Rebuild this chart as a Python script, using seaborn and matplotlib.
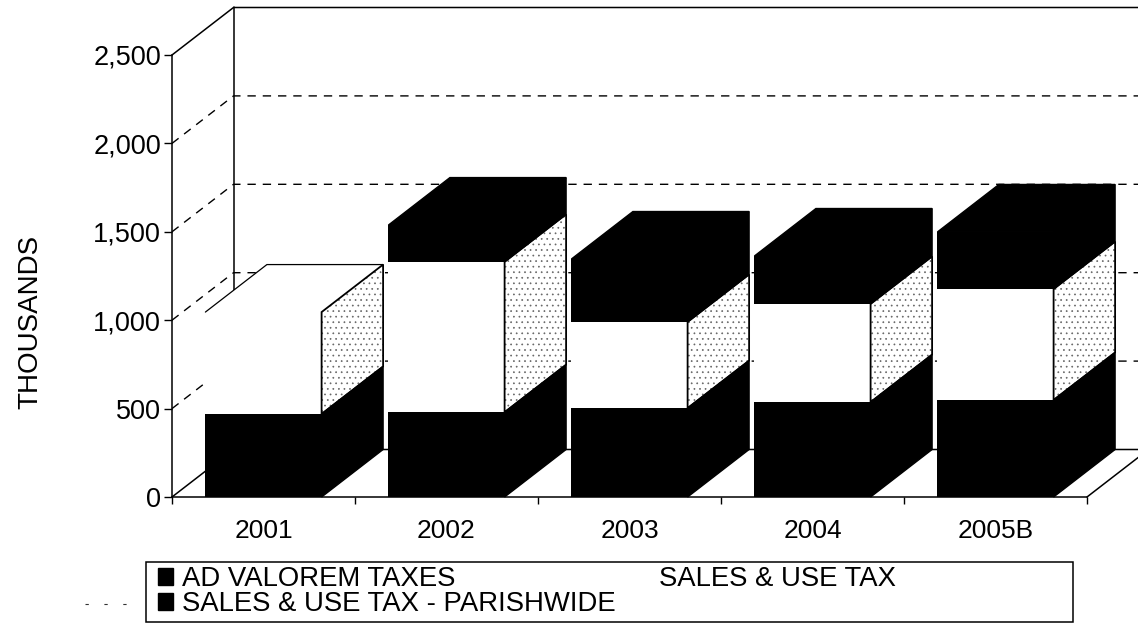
import numpy as np
import pandas as pd
import matplotlib
matplotlib.use("Agg")
import matplotlib.pyplot as plt
from matplotlib.lines import Line2D
from matplotlib.patches import Patch, Polygon, Rectangle
import seaborn as sns

years = ["2001", "2002", "2003", "2004", "2005B"]
ad_valorem = [470, 480, 503, 537, 549]
sales_use = [576, 850, 487, 555, 627]
parishwide = [0, 208, 356, 271, 323]
y_ticks = [0, 500, 1000, 1500, 2000, 2500]
y_tick_labels = ["0", "500", "1,000", "1,500", "2,000", "2,500"]
series_names = ["AD VALOREM TAXES", "SALES & USE TAX - PARISHWIDE", "SALES & USE TAX"]

W, H = 1138, 623
sns.set_theme(style="white")
plt.rcParams["font.family"] = ["Liberation Sans", "DejaVu Sans"]
plt.rcParams["hatch.linewidth"] = 0.5

fig = plt.figure(figsize=(W / 100, H / 100), dpi=100, facecolor="white")
ax = fig.add_axes([172 / W, (H - 497) / H, (1087 - 172) / W, (497 - 55) / H])
ax.patch.set_alpha(0)

BAR_W = 0.635
DX = 61.5 / 183      # depth of the 3-D box in category units
DY = 47.5 / 88.4 * 500  # depth of the 3-D box in value units
XMAX_WALL = 5.2

df = pd.DataFrame({"year": years, "ad": ad_valorem, "sales": sales_use, "parish": parishwide})
ad = np.array(ad_valorem, float)
su = np.array(sales_use, float)
pa = np.array(parishwide, float)

# front faces
sns.barplot(data=df, x="year", y="ad", color="black", saturation=1, width=BAR_W, linewidth=0, ax=ax, zorder=3)
sns.barplot(data=df, x="year", y="sales", bottom=ad, color="white", saturation=1, width=BAR_W, linewidth=0, ax=ax, zorder=3)
sns.barplot(data=df[df["parish"] > 0], x="year", y="parish", bottom=(ad + su)[pa > 0], color="black",
            saturation=1, width=BAR_W, linewidth=0, ax=ax, zorder=3, order=years)

ax.set_xlim(-0.5, 4.5)
ax.set_ylim(0, 2500)

# back wall, floor and depth grid
x0 = -0.5
wall_x = x0 + DX
ax.plot([x0, wall_x, XMAX_WALL], [2500, 2500 + DY, 2500 + DY], color="black", lw=1.1, clip_on=False, zorder=1)
ax.plot([wall_x, wall_x], [DY, 2500 + DY], color="black", lw=1.1, clip_on=False, zorder=1)
ax.plot([x0, wall_x, XMAX_WALL], [0, DY, DY], color="black", lw=1.1, clip_on=False, zorder=1)
ax.plot([4.5, 4.5 + DX], [0, DY], color="black", lw=1.1, clip_on=False, zorder=1)
for v in y_ticks[1:-1]:
    ax.plot([x0, wall_x, XMAX_WALL], [v, v + DY, v + DY], color="black", lw=1.0,
            ls=(0, (6, 5)), clip_on=False, zorder=1)

# side and top faces
for i in range(len(years)):
    xr = i + BAR_W / 2
    xl = i - BAR_W / 2
    b1, b2, b3 = ad[i], ad[i] + su[i], ad[i] + su[i] + pa[i]
    ax.add_patch(Polygon([(xr, 0), (xr + DX, DY), (xr + DX, b1 + DY), (xr, b1)], fc="black", ec="black", lw=1, zorder=3.3, clip_on=False))
    ax.add_patch(Polygon([(xr, b1), (xr + DX, b1 + DY), (xr + DX, b2 + DY), (xr, b2)], fc="white", ec="#666666",
                         hatch="...", lw=0, zorder=3, clip_on=False))
    ax.add_patch(Polygon([(xr, b1), (xr + DX, b1 + DY), (xr + DX, b2 + DY), (xr, b2)], fill=False, ec="black", lw=1.3, zorder=3.2, clip_on=False))
    if pa[i] > 0:
        ax.add_patch(Polygon([(xr, b2), (xr + DX, b2 + DY), (xr + DX, b3 + DY), (xr, b3)], fc="black", ec="black", lw=1, zorder=3.3, clip_on=False))
        ax.add_patch(Polygon([(xl, b3), (xl + DX, b3 + DY), (xr + DX, b3 + DY), (xr, b3)], fc="black", ec="black", lw=1, zorder=3.3, clip_on=False))
    else:
        ax.add_patch(Polygon([(xl, b3), (xl + DX, b3 + DY), (xr + DX, b3 + DY), (xr, b3)], fc="white", lw=0, zorder=3, clip_on=False))
        ax.plot([xl, xl + DX, xr + DX], [b3, b3 + DY, b3 + DY], color="black", lw=0.9, zorder=3.1, clip_on=False)

# axes
for s in ("top", "right"):
    ax.spines[s].set_visible(False)
for s in ("left", "bottom"):
    ax.spines[s].set_linewidth(1.1)
    ax.spines[s].set_color("black")
    ax.spines[s].set_zorder(4)
ax.set_xlabel("")
ax.set_ylabel("")
ax.set_yticks(y_ticks)
ax.set_yticklabels(y_tick_labels)
ax.set_xticks(range(len(years)))
ax.set_xticklabels(years)
ax.set_xticks(np.arange(-0.5, 5), minor=True)
ax.tick_params(axis="x", which="major", length=0, pad=15.5, labelsize=19, labelcolor="black")
ax.tick_params(axis="x", which="minor", length=5, width=1, color="black", bottom=True)
ax.tick_params(axis="y", length=6, width=1, color="black", left=True, pad=2, labelsize=19.5, labelcolor="black")

fig.text(30 / W, 1 - 322 / H, "THOUSANDS", rotation=90, ha="center", va="center", fontsize=20, color="black")

# legend
fig.add_artist(Rectangle((146 / W, 1 - 622 / H), (1073 - 146) / W, 60 / H, transform=fig.transFigure,
                         fc="white", ec="black", lw=1.1))
handles = [Patch(fc="black", ec="black"), Patch(fc="black", ec="black"), Patch(fc="white", ec="white")]
fig.legend(handles, series_names, ncol=2, loc="upper left", bbox_to_anchor=(152 / W, 1 - 561 / H), frameon=False,
           fontsize=19.8, handlelength=0.58, handleheight=0.58, handletextpad=0.3, labelspacing=-0.04, columnspacing=0.72,
           labelcolor="black", borderpad=0.2, borderaxespad=0)

fig.add_artist(Line2D([85 / W, 134 / W], [1 - 604 / H] * 2, transform=fig.transFigure, color="#333333", lw=0.8, ls=(0, (3, 14))))

fig.savefig("out.png", dpi=100)
